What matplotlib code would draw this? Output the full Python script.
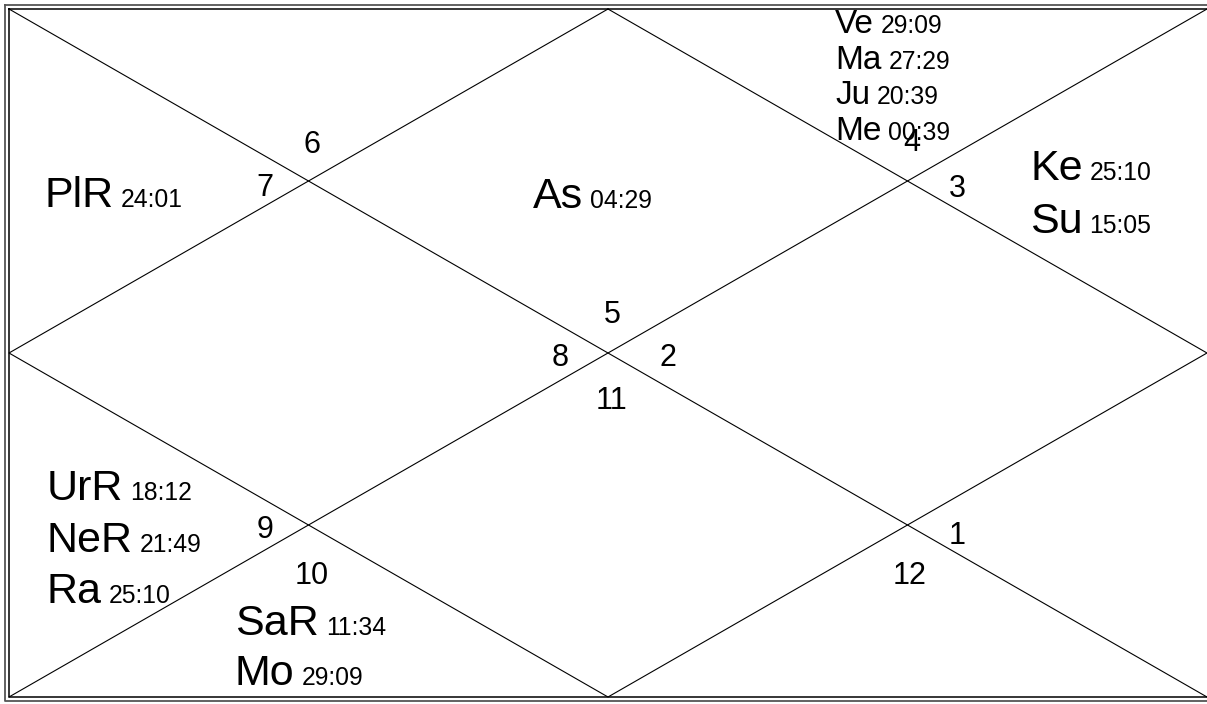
import matplotlib
matplotlib.use("Agg")
import matplotlib.pyplot as plt

plt.rcParams['font.family'] = ['Liberation Sans', 'DejaVu Sans']

# ---- data ----
house_signs = [5, 6, 7, 8, 9, 10, 11, 12, 1, 2, 3, 4]  # sign number in houses 1..12
house_planets = {
    1: [("As", "04:29")],
    3: [("PlR", "24:01")],
    5: [("UrR", "18:12"), ("NeR", "21:49"), ("Ra", "25:10")],
    6: [("SaR", "11:34"), ("Mo", "29:09")],
    11: [("Ke", "25:10"), ("Su", "15:05")],
    12: [("Ve", "29:09"), ("Ma", "27:29"), ("Ju", "20:39"), ("Me", "00:39")],
}

# ---- layout (pixel coordinates) ----
W, H = 1207, 704
L, T, R, B = 9, 9, 1207, 697
CX, CY = (L + R) / 2, (T + B) / 2

# centre of each sign number, per house
sign_pos = {1: (612, 312), 2: (312, 142), 3: (265, 185), 4: (560, 355),
            5: (265, 527), 6: (312, 573), 7: (612, 398), 8: (910, 573),
            9: (957, 533), 10: (668, 355), 11: (957, 186), 12: (912, 140)}
# (left x, first baseline y, line step, name size, degree size)
planet_pos = {1: (533, 208, 50, 31, 17.8),
              3: (45, 207, 50, 31, 17.8),
              5: (47, 500, 51.5, 31, 17.8),
              6: (235, 635, 50, 31, 17.8),
              11: (1030, 180, 53, 31, 17.8),
              12: (835, 33, 35.7, 24, 17.8)}

fig = plt.figure(figsize=(W / 100, H / 100), dpi=100)
ax = fig.add_axes([0, 0, 1, 1])
ax.set_xlim(0, W)
ax.set_ylim(H, 0)
ax.axis('off')

# borders
ax.plot([5, 1212, 1212, 5, 5], [5, 5, 701, 701, 5], color='#555555', lw=1.3)
ax.plot([L, R + 2, R + 2, L, L], [T, T, B, B, T], color='black', lw=1.1)
# diagonals
lc = dict(color='black', lw=0.8)
ax.plot([L, R], [T, B], **lc)
ax.plot([R, L], [T, B], **lc)
# inner diamond
ax.plot([CX, R, CX, L, CX], [T, CY, B, CY, T], **lc)

# sign numbers
num_size = 22
for h, s in enumerate(house_signs, start=1):
    x, y = sign_pos[h]
    ax.text(x, y + 11, str(s), fontsize=num_size, ha='center', va='baseline',
            color='black')

# planets
for h, plist in house_planets.items():
    x0, y0, step, nsz, dsz = planet_pos[h]
    for i, (name, deg) in enumerate(plist):
        yb = y0 + i * step
        t = ax.text(x0, yb, name, fontsize=nsz, ha='left', va='baseline',
                    color='black')
        ax.annotate(deg, xy=(1, yb), xycoords=(t, 'data'), xytext=(5, 0),
                    textcoords='offset points', fontsize=dsz,
                    ha='left', va='baseline', color='black')

fig.savefig('out.png', dpi=100)
